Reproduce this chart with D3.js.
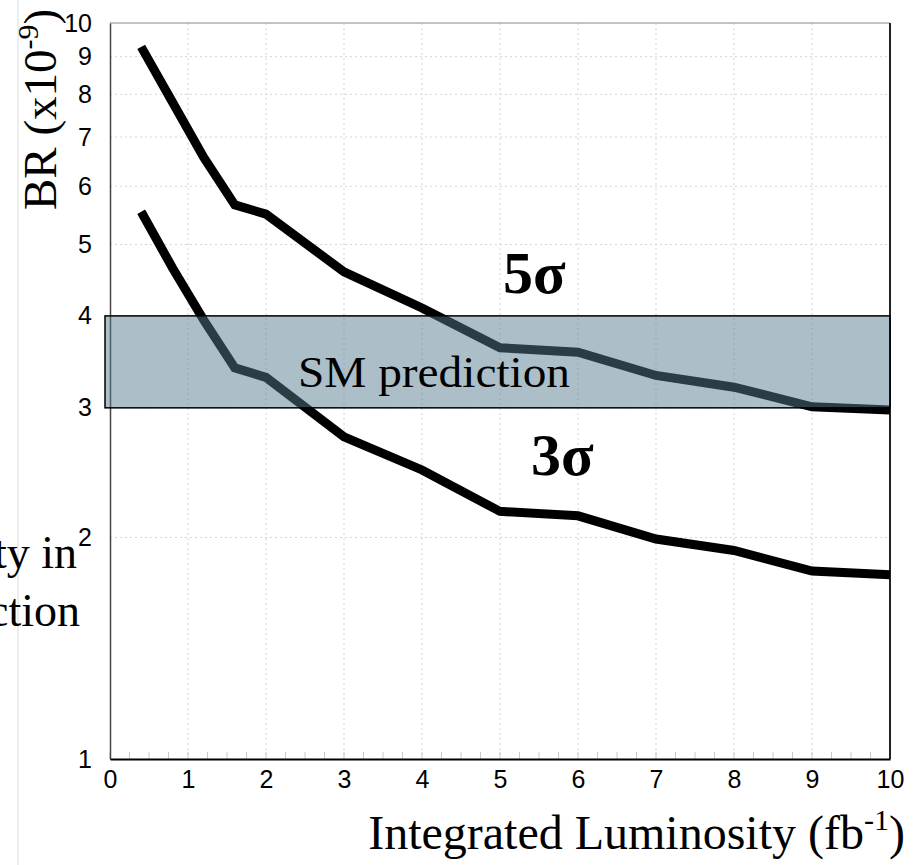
<!DOCTYPE html>
<html>
<head>
<meta charset="utf-8">
<script src="https://cdn.jsdelivr.net/npm/d3@7"></script>
<style>
  body { margin: 0; background: #fff; }
  svg { display: block; }
</style>
</head>
<body>
<div id="chart"></div>
<script>
// luminosity points (fb^-1) and BR reach (x10^-9) for 5 sigma and 3 sigma
var lumi = [0.4, 0.8, 1.2, 1.6, 2, 3, 4, 5, 6, 7, 8, 9, 10];
var br5sigma = [9.28, 7.81, 6.57, 5.66, 5.50, 4.59, 4.10, 3.62, 3.57, 3.32, 3.20, 3.01, 2.98];
var br3sigma = [5.54, 4.65, 3.95, 3.40, 3.30, 2.74, 2.47, 2.17, 2.14, 1.99, 1.92, 1.80, 1.78];
var smBand = [3, 4];
var xTicks = [0, 1, 2, 3, 4, 5, 6, 7, 8, 9, 10];
var yTicks = [1, 2, 3, 4, 5, 6, 7, 8, 9, 10];

(function draw() {
  var width = 920, height = 865;
  var plotLeft = 110, plotRight = 890, plotTop = 23, plotBottom = 759;

  var svg = d3.select('#chart').append('svg')
    .attr('width', width)
    .attr('height', height);

  var x = d3.scaleLinear().domain([0, 10]).range([plotLeft, plotRight]);
  var y = d3.scaleLog().domain([1, 10]).range([plotBottom, plotTop]);

  // faint slide edge line
  svg.append('line')
    .attr('x1', 18).attr('x2', 18).attr('y1', 0).attr('y2', height)
    .style('stroke', '#dcdcdc').style('stroke-width', 1);

  // grid
  svg.append('g').selectAll('line')
    .data(yTicks.filter(function(d) { return d > 1 && d < 10; }))
    .enter().append('line')
    .attr('x1', plotLeft).attr('x2', plotRight)
    .attr('y1', function(d) { return y(d); })
    .attr('y2', function(d) { return y(d); })
    .style('stroke', '#d4d4d4').style('stroke-dasharray', '2,3');

  svg.append('g').selectAll('line')
    .data(xTicks.filter(function(d) { return d > 0 && d < 10; }))
    .enter().append('line')
    .attr('y1', plotTop).attr('y2', plotBottom)
    .attr('x1', function(d) { return x(d); })
    .attr('x2', function(d) { return x(d); })
    .style('stroke', '#d4d4d4').style('stroke-dasharray', '2,3');

  // minor ticks on x axis
  svg.append('g').selectAll('line')
    .data(d3.range(0, 40).map(function(i) { return i * 0.25; }))
    .enter().append('line')
    .attr('x1', function(d) { return x(d); })
    .attr('x2', function(d) { return x(d); })
    .attr('y1', plotBottom).attr('y2', plotBottom - 7)
    .style('stroke', '#c8c8c8').style('stroke-width', 1);

  // frame
  svg.append('line').attr('x1', plotLeft).attr('x2', plotRight).attr('y1', plotTop).attr('y2', plotTop)
    .style('stroke', '#888').style('stroke-width', 1);
  svg.append('line').attr('x1', plotRight).attr('x2', plotRight).attr('y1', plotTop).attr('y2', plotBottom)
    .style('stroke', '#222').style('stroke-width', 2);

  // y axis (labels only)
  var yAxis = svg.append('g')
    .attr('transform', 'translate(' + plotLeft + ',0)')
    .attr('font-size', 25)
    .attr('font-family', 'Liberation Sans, Arial, sans-serif')
    .call(d3.axisLeft(y).tickValues(yTicks).tickSize(0).tickPadding(18).tickFormat(d3.format('d')));
  yAxis.select('.domain').style('stroke', '#444').style('stroke-width', 1.5);
  yAxis.selectAll('text')
    .style('font-family', 'Liberation Sans, Arial, sans-serif')
    .style('font-size', '25px')
    .style('fill', '#000');

  // x axis
  var xAxis = svg.append('g')
    .attr('transform', 'translate(0,' + plotBottom + ')')
    .attr('font-size', 25)
    .attr('font-family', 'Liberation Sans, Arial, sans-serif')
    .call(d3.axisBottom(x).tickValues(xTicks).tickSize(0).tickPadding(11).tickFormat(d3.format('d')));
  xAxis.select('.domain').style('stroke', '#000').style('stroke-width', 2);
  xAxis.selectAll('text')
    .style('font-family', 'Liberation Sans, Arial, sans-serif')
    .style('font-size', '25px')
    .style('fill', '#000');

  // curves
  var line = d3.line()
    .x(function(d) { return x(d[0]); })
    .y(function(d) { return y(d[1]); });

  [br5sigma, br3sigma].forEach(function(series) {
    svg.append('path')
      .datum(d3.zip(lumi, series))
      .attr('d', line)
      .style('fill', 'none')
      .style('stroke', '#000')
      .style('stroke-width', 9)
      .style('stroke-linejoin', 'miter')
      .style('stroke-linecap', 'butt');
  });

  // SM prediction band
  svg.append('rect')
    .attr('x', x(0) - 5)
    .attr('width', x(10) - x(0) + 5)
    .attr('y', y(smBand[1]))
    .attr('height', y(smBand[0]) - y(smBand[1]))
    .style('fill', 'rgb(86,122,143)')
    .style('fill-opacity', 0.49)
    .style('stroke', '#000')
    .style('stroke-width', 1.5);

  var serif = 'Liberation Serif, Times New Roman, serif';

  svg.append('text')
    .attr('x', 298).attr('y', 387)
    .attr('textLength', 272)
    .attr('lengthAdjust', 'spacingAndGlyphs')
    .style('font-family', serif).style('font-size', '45px')
    .text('SM prediction');

  svg.append('text')
    .attr('x', 503).attr('y', 293)
    .style('font-family', serif).style('font-size', '60px').style('font-weight', 'bold')
    .text('5σ');

  svg.append('text')
    .attr('x', 531).attr('y', 475)
    .style('font-family', serif).style('font-size', '60px').style('font-weight', 'bold')
    .text('3σ');

  // y axis title
  var yt = svg.append('text')
    .attr('transform', 'translate(56,210) rotate(-90)')
    .style('font-family', serif).style('font-size', '47px');
  yt.append('tspan').text('BR (x10');
  yt.append('tspan').attr('dy', -18).style('font-size', '30px').text('-9');
  yt.append('tspan').attr('dy', 18).text(')');

  // x axis title
  var xt = svg.append('text')
    .attr('x', 905).attr('y', 849)
    .attr('text-anchor', 'end')
    .style('font-family', serif).style('font-size', '48px');
  xt.append('tspan').text('Integrated Luminosity (fb');
  xt.append('tspan').attr('dy', -19).style('font-size', '30px').text('-1');
  xt.append('tspan').attr('dy', 19).text(')');

  // clipped slide text on the left
  svg.append('text')
    .attr('x', 77).attr('y', 568)
    .attr('text-anchor', 'end')
    .style('font-family', serif).style('font-size', '46px')
    .text('ty in');

  svg.append('text')
    .attr('x', 80).attr('y', 626)
    .attr('text-anchor', 'end')
    .style('font-family', serif).style('font-size', '46px')
    .text('ction');
})();
</script>
</body>
</html>
